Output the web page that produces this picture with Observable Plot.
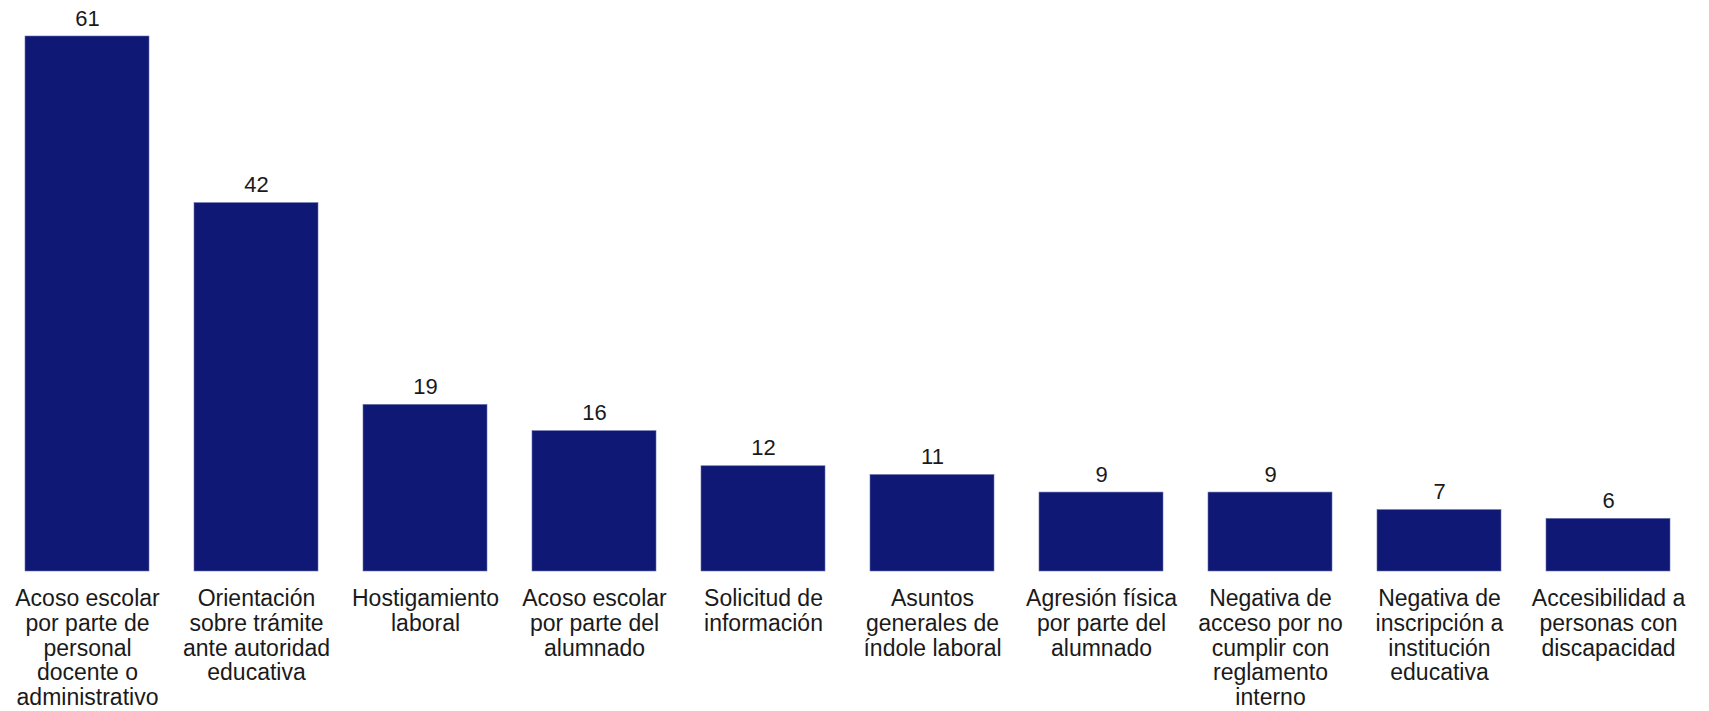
<!DOCTYPE html>
<html>
<head>
<meta charset="utf-8">
<script src="https://cdn.jsdelivr.net/npm/d3@7"></script>
<script src="https://cdn.jsdelivr.net/npm/@observablehq/plot@0.6"></script>
<style>
  html, body { margin: 0; padding: 0; background: #fff; }
  #chart svg { display: block; }
</style>
</head>
<body>
<div id="chart"></div>
<script>
const categories = [
  "Acoso escolar por parte de personal docente o administrativo",
  "Orientación sobre trámite ante autoridad educativa",
  "Hostigamiento laboral",
  "Acoso escolar por parte del alumnado",
  "Solicitud de información",
  "Asuntos generales de índole laboral",
  "Agresión física por parte del alumnado",
  "Negativa de acceso por no cumplir con reglamento interno",
  "Negativa de inscripción a institución educativa",
  "Accesibilidad a personas con discapacidad"
];
const values = [61, 42, 19, 16, 12, 11, 9, 9, 7, 6];
const tickLabels = [
  "Acoso escolar\npor parte de\npersonal\ndocente o\nadministrativo",
  "Orientación\nsobre trámite\nante autoridad\neducativa",
  "Hostigamiento\nlaboral",
  "Acoso escolar\npor parte del\nalumnado",
  "Solicitud de\ninformación",
  "Asuntos\ngenerales de\níndole laboral",
  "Agresión física\npor parte del\nalumnado",
  "Negativa de\nacceso por no\ncumplir con\nreglamento\ninterno",
  "Negativa de\ninscripción a\ninstitución\neducativa",
  "Accesibilidad a\npersonas con\ndiscapacidad"
];

const data = categories.map((c, i) => ({category: c, value: values[i]}));
const labelOf = new Map(categories.map((c, i) => [c, tickLabels[i]]));

const chart = Plot.plot({
  width: 1709,
  height: 711,
  marginLeft: 0,
  marginRight: 14,
  marginTop: 36,
  marginBottom: 140,
  style: {fontFamily: "'Liberation Sans', Arial, sans-serif", color: "#1a1a1a", background: "#fff"},
  x: {domain: categories, paddingInner: 0.2665, paddingOuter: 0.1315, label: null},
  y: {domain: [0, 61], axis: null},
  marks: [
    Plot.barY(data, {x: "category", y: "value", fill: "#0F1874", stroke: "#6a70ad", strokeWidth: 0.6}),
    Plot.text(data, {x: "category", y: "value", text: d => String(d.value), dy: -11, lineAnchor: "bottom", fontSize: 22, fill: "#1a1a1a"}),
    Plot.axisX({
      tickSize: 0,
      tickPadding: 17,
      fontSize: 23,
      lineHeight: 1.076,
      tickFormat: d => labelOf.get(d),
      label: null,
      fill: "#1a1a1a"
    })
  ]
});
document.getElementById("chart").appendChild(chart);
</script>
</body>
</html>
